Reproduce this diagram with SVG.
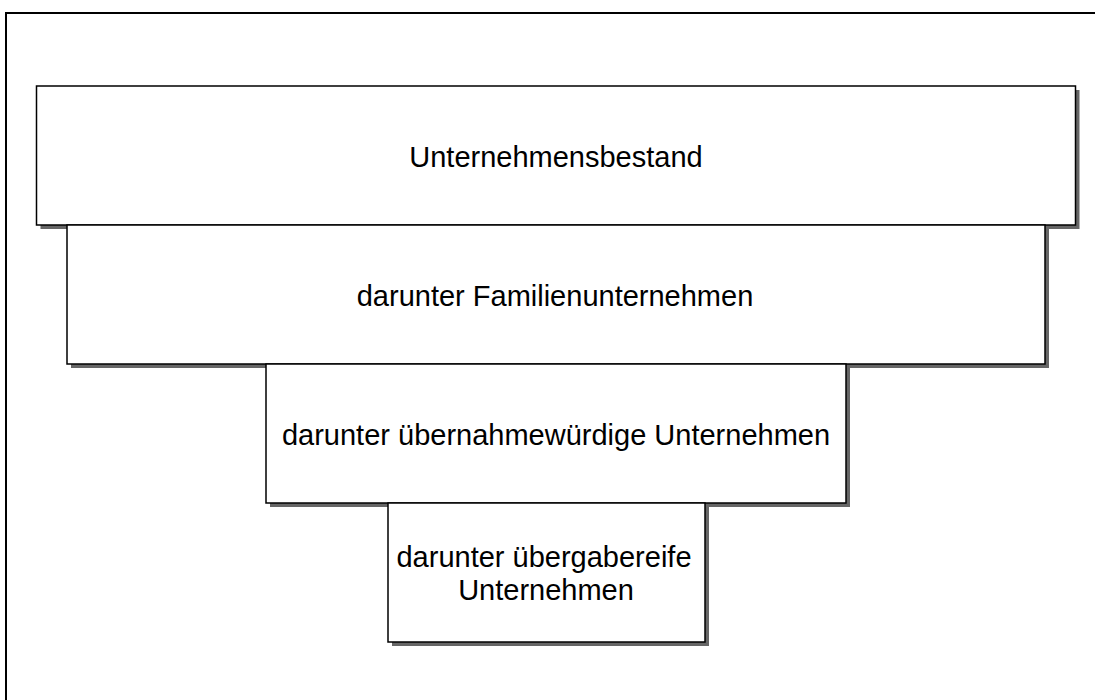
<svg xmlns="http://www.w3.org/2000/svg" width="1095" height="700" viewBox="0 0 1095 700">
<style>
.shadow{fill:#666666;stroke:none}
.box{fill:#ffffff;stroke:#000000;stroke-width:1.5}
.lbl{font-family:"Liberation Sans",Arial,sans-serif;font-size:29px;fill:#000000;text-anchor:middle}
</style>
<rect x="0" y="0" width="1095" height="700" fill="#ffffff"/>
<rect x="6" y="13" width="1100" height="700" fill="none" stroke="#000000" stroke-width="2"/>
<g id="node-unternehmensbestand">
<rect class="shadow" x="40.5" y="90" width="1039" height="139"/>
<rect class="box" x="36.5" y="86" width="1039" height="139"/>
<text class="lbl" x="556" y="167">Unternehmensbestand</text>
</g>
<g id="node-familienunternehmen">
<rect class="shadow" x="71" y="229" width="978" height="139"/>
<rect class="box" x="67" y="225" width="978" height="139"/>
<text class="lbl" x="555" y="306">darunter Familienunternehmen</text>
</g>
<g id="node-uebernahmewuerdig">
<rect class="shadow" x="270" y="368" width="580" height="139"/>
<rect class="box" x="266" y="364" width="580" height="139"/>
<text class="lbl" x="556" y="445">darunter übernahmewürdige Unternehmen</text>
</g>
<g id="node-uebergabereif">
<rect class="shadow" x="392" y="507" width="317" height="139"/>
<rect class="box" x="388" y="503" width="317" height="139"/>
<text class="lbl" x="544" y="567">darunter übergabereife</text>
<text class="lbl" x="546" y="600">Unternehmen</text>
</g>
<g id="connectors"></g>
</svg>
